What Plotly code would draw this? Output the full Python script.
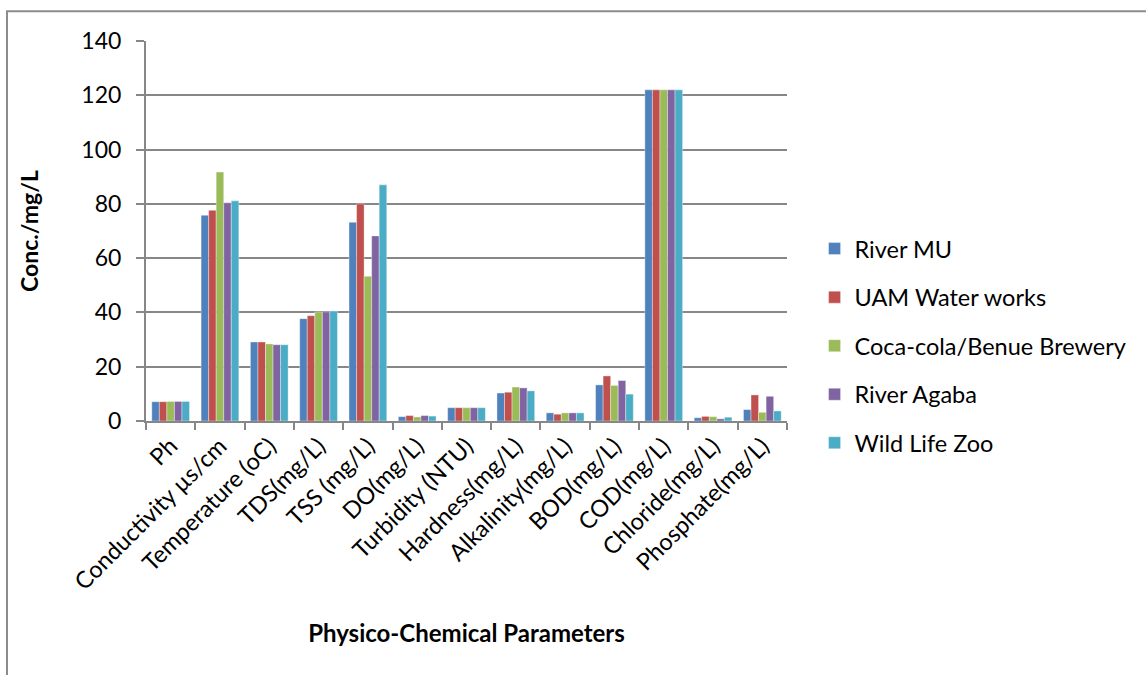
import plotly.graph_objects as go

# Physico-chemical parameters measured at each sampling site
parameters = [
    "Ph", "Conductivity µs/cm", "Temperature (oC)", "TDS(mg/L)", "TSS (mg/L)",
    "DO(mg/L)", "Turbidity (NTU)", "Hardness(mg/L)", "Alkalinity(mg/L)",
    "BOD(mg/L)", "COD(mg/L)", "Chloride(mg/L)", "Phosphate(mg/L)",
]

river_mu = [7.1, 75.8, 29.1, 37.7, 73.2, 1.6, 4.9, 10.3, 3.0, 13.3, 122, 1.2, 4.2]
uam_water_works = [7.1, 77.6, 29.1, 38.8, 80.0, 2.0, 4.9, 10.6, 2.5, 16.6, 122, 1.7, 9.6]
coca_cola_benue = [7.2, 91.7, 28.4, 40.2, 53.3, 1.5, 4.9, 12.5, 3.0, 13.1, 122, 1.6, 3.2]
river_agaba = [7.2, 80.4, 28.1, 40.2, 68.2, 2.0, 4.9, 12.2, 3.0, 14.9, 122, 0.8, 9.1]
wild_life_zoo = [7.2, 81.1, 28.1, 40.5, 87.0, 1.8, 4.9, 11.1, 3.0, 9.9, 122, 1.4, 3.7]

series = [
    ("River MU", river_mu, "#4F81BD"),
    ("UAM Water works", uam_water_works, "#C0504D"),
    ("Coca-cola/Benue Brewery", coca_cola_benue, "#9BBB59"),
    ("River Agaba", river_agaba, "#8064A2"),
    ("Wild Life Zoo", wild_life_zoo, "#4BACC6"),
]

FONT = "Lato, Carlito, Calibri, sans-serif"
GRID = "#878787"

fig = go.Figure()
for name, values, color in series:
    fig.add_trace(go.Bar(
        name=name,
        x=parameters,
        y=values,
        legendgroup=name,
        marker=dict(color=color, line=dict(color="rgba(255,255,255,0.6)", width=0.6)),
    ))

fig.update_layout(
    width=1146,
    height=675,
    barmode="group",
    bargap=0.235,
    bargroupgap=0,
    plot_bgcolor="white",
    paper_bgcolor="white",
    font=dict(family=FONT, size=23, color="black"),
    margin=dict(l=146, r=359, t=41, b=254),
    legend=dict(
        x=1.043, y=0.511, xanchor="left", yanchor="top",
        font=dict(family=FONT, size=23.5, color="black"),
        tracegroupgap=15,
        bgcolor="rgba(0,0,0,0)",
    ),
    xaxis=dict(
        tickangle=-45,
        ticks="outside",
        tickson="boundaries",
        ticklen=7,
        tickcolor=GRID,
        tickwidth=2,
        showline=True,
        linecolor=GRID,
        linewidth=2,
        showgrid=False,
        tickfont=dict(family=FONT, size=23.5),
        title=dict(text="<b>Physico-Chemical Parameters</b>",
                   font=dict(family=FONT, size=24), standoff=31),
    ),
    yaxis=dict(
        range=[0, 140],
        dtick=20,
        ticks="outside",
        ticklen=8,
        tickcolor=GRID,
        tickwidth=2,
        ticklabelstandoff=10,
        showline=True,
        linecolor=GRID,
        linewidth=2,
        showgrid=True,
        gridcolor=GRID,
        gridwidth=2,
        zeroline=False,
        tickfont=dict(family=FONT, size=23),
        title=dict(text="<b>Conc./mg/L</b>", font=dict(family=FONT, size=23), standoff=36),
    ),
)

# Chart frame around the whole figure area
fig.add_shape(
    type="rect", xref="paper", yref="paper",
    x0=(7 - 146) / 641, x1=(1160 - 146) / 641,
    y0=(420.7 - 690) / 380, y1=(420.7 - 11) / 380,
    line=dict(color="#8c8c8c", width=2),
    fillcolor="rgba(0,0,0,0)",
    layer="below",
)

fig.write_html("out.html")
